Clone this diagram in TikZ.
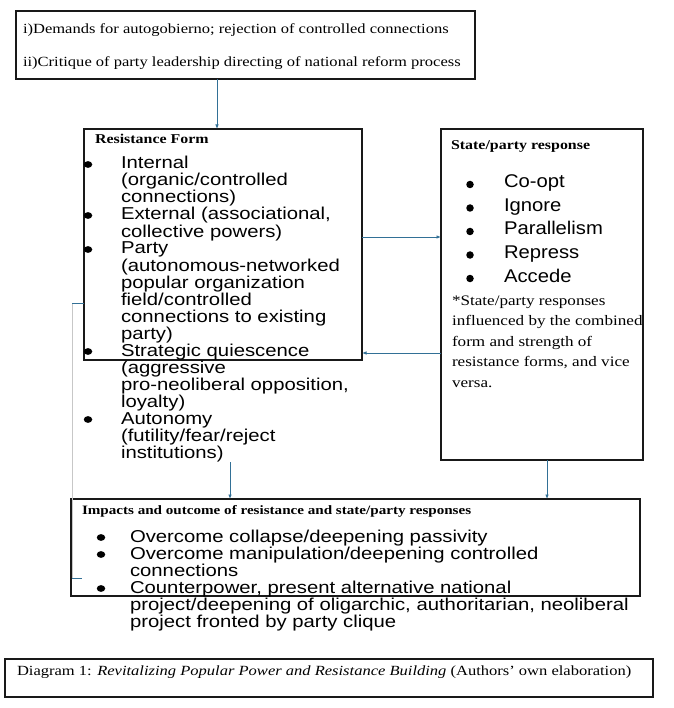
\documentclass[tikz,border=0pt]{standalone}
\usepackage{fontspec}
\usetikzlibrary{arrows.meta,shapes.geometric}
\newfontfamily\serifS{Liberation Serif}[FakeStretch=1.18]
\newfontfamily\sansS{Liberation Sans}[FakeStretch=1.18]
\newfontfamily\sansT{Liberation Sans}[FakeStretch=1.1]
\newcommand\fTop{\serifS\fontsize{14}{16}\selectfont}
\newcommand\fHead{\serifS\bfseries\fontsize{13.5}{15}\selectfont}
\newcommand\fItem{\sansS\fontsize{17.2}{17}\selectfont}
\newcommand\fState{\sansT\fontsize{18.4}{20}\selectfont}
\newcommand\fNote{\serifS\fontsize{14.5}{17}\selectfont}
\newcommand\fImpH{\serifS\bfseries\fontsize{12.8}{15}\selectfont}
\definecolor{connc}{RGB}{50,112,150}
\definecolor{boxline}{RGB}{25,25,25}
\begin{document}
\begin{tikzpicture}[x=1pt,y=-1pt,
  box/.style={draw=boxline, line width=1.1pt, anchor=north west, inner sep=0pt, outer sep=0pt, rectangle},
  txt/.style={anchor=base west, inner sep=0pt, outer sep=0pt},
  bulR/.style={ellipse, fill=black, inner sep=0pt, minimum width=8.5pt, minimum height=6.8pt},
  bulS/.style={circle, fill=black, inner sep=0pt, minimum size=7.5pt},
  arr/.style={draw=connc, line width=0.9pt, -{Latex[length=4.5pt,width=3.6pt]}},
  cline/.style={draw=connc, line width=0.9pt},
  gline/.style={draw=black!22, line width=0.9pt}]
\useasboundingbox (0,0) rectangle (673,708);
\fill[white] (0,0) rectangle (673,708);

% boxes
\node[box, minimum width=459pt, minimum height=68pt] (top) at (16,11) {};
\node[box, minimum width=278pt, minimum height=231pt] (res) at (84,129) {};
\node[box, minimum width=202pt, minimum height=331pt] (state) at (441,129) {};
\node[box, minimum width=569pt, minimum height=97pt] (imp) at (71,499) {};
\node[box, minimum width=648pt, minimum height=38pt] (cap) at (5,659) {};

% top box text
\node[txt, font=\fTop] (t1) at (23,34) {i)Demands for autogobierno; rejection of controlled connections};
\node[txt, font=\fTop] (t2) at (23,67) {ii)Critique of party leadership directing of national reform process};

% resistance form
\node[txt, font=\fHead] (rh) at (95,144) {Resistance Form};
\node[txt, font=\fItem] (r0) at (121,169) {Internal};
\node[txt, font=\fItem] (r1) at (121,186) {(organic/controlled};
\node[txt, font=\fItem] (r2) at (121,203) {connections)};
\node[txt, font=\fItem] (r3) at (121,220) {External (associational,};
\node[txt, font=\fItem] (r4) at (121,237) {collective powers)};
\node[txt, font=\fItem] (r5) at (121,254) {Party};
\node[txt, font=\fItem] (r6) at (121,271) {(autonomous-networked};
\node[txt, font=\fItem] (r7) at (121,288) {popular organization};
\node[txt, font=\fItem] (r8) at (121,305) {field/controlled};
\node[txt, font=\fItem] (r9) at (121,322) {connections to existing};
\node[txt, font=\fItem] (r10) at (121,339) {party)};
\node[txt, font=\fItem] (r11) at (121,356) {Strategic quiescence};
\node[txt, font=\fItem] (r12) at (121,373) {(aggressive};
\node[txt, font=\fItem] (r13) at (121,390) {pro-neoliberal opposition,};
\node[txt, font=\fItem] (r14) at (121,407) {loyalty)};
\node[txt, font=\fItem] (r15) at (121,424) {Autonomy};
\node[txt, font=\fItem] (r16) at (121,441) {(futility/fear/reject};
\node[txt, font=\fItem] (r17) at (121,458) {institutions)};
\node[bulR] (rb0) at (88,164.5) {};
\node[bulR] (rb3) at (88,215.5) {};
\node[bulR] (rb5) at (88,249.5) {};
\node[bulR] (rb11) at (88,351.5) {};
\node[bulR] (rb15) at (88,419.5) {};

% state/party response
\node[txt, font=\fHead] (sh) at (451,150) {State/party response};
\node[txt, font=\fState] (s1) at (504,188) {Co-opt};
\node[txt, font=\fState] (s2) at (504,211.5) {Ignore};
\node[txt, font=\fState] (s3) at (504,235) {Parallelism};
\node[txt, font=\fState] (s4) at (504,258.5) {Repress};
\node[txt, font=\fState] (s5) at (504,282) {Accede};
\node[bulS] (sb1) at (470,184.5) {};
\node[bulS] (sb2) at (470,208) {};
\node[bulS] (sb3) at (470,231.5) {};
\node[bulS] (sb4) at (470,255) {};
\node[bulS] (sb5) at (470,278.5) {};
\node[txt, font=\fNote] (n1) at (452,305) {*State/party responses};
\node[txt, font=\fNote] (n2) at (452,325.6) {influenced by the combined};
\node[txt, font=\fNote] (n3) at (452,346.2) {form and strength of};
\node[txt, font=\fNote] (n4) at (452,366.8) {resistance forms, and vice};
\node[txt, font=\fNote] (n5) at (452,387.4) {versa.};

% impacts
\node[txt, font=\fImpH] (ih) at (82,514) {Impacts and outcome of resistance and state/party responses};
\node[txt, font=\fItem] (i1) at (130,542) {Overcome collapse/deepening passivity};
\node[txt, font=\fItem] (i2) at (130,559) {Overcome manipulation/deepening controlled};
\node[txt, font=\fItem] (i3) at (130,576) {connections};
\node[txt, font=\fItem] (i4) at (130,593) {Counterpower, present alternative national};
\node[txt, font=\fItem] (i5) at (130,610) {project/deepening of oligarchic, authoritarian, neoliberal};
\node[txt, font=\fItem] (i6) at (130,627) {project fronted by party clique};
\node[bulR] (ib1) at (101,537.5) {};
\node[bulR] (ib2) at (101,554.5) {};
\node[bulR] (ib4) at (101,588.5) {};

% caption
\node[txt, font=\fTop] (c1) at (17,675) {Diagram 1: \textit{Revitalizing Popular Power and Resistance Building} (Authors’ own elaboration)};

% connectors
\coordinate (a1) at (217,0);
\draw[arr] (top.south -| a1) -- (res.north -| a1);
\coordinate (h1) at (0,237);
\draw[arr] (res.east |- h1) -- (state.west |- h1);
\coordinate (h2) at (0,353);
\draw[arr] (state.west |- h2) -- (res.east |- h2);
\coordinate (d1) at (230,462);
\draw[arr] (d1) -- (imp.north -| d1);
\coordinate (d2) at (547,0);
\draw[arr] (state.south -| d2) -- (imp.north -| d2);
\coordinate (l1) at (72,303);
\coordinate (l2) at (72,578);
\coordinate (l3) at (82,578);
\draw[gline] (l1) -- (l2);
\draw[cline] (res.west |- l1) -- (l1);
\draw[cline] (l2) -- (l3);
\end{tikzpicture}
\end{document}
